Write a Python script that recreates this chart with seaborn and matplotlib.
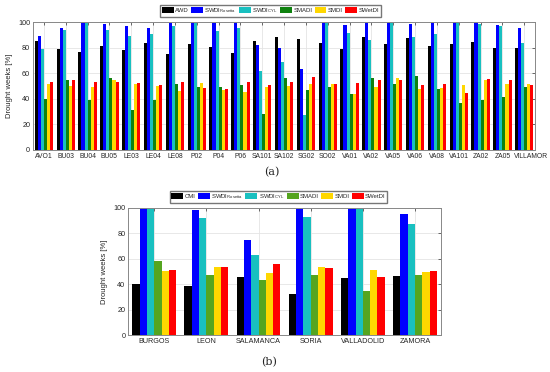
import numpy as np
import pandas as pd
import seaborn as sns
from matplotlib import pyplot as plt
from matplotlib import transforms

# (a) stations
stations = ['AVO1', 'BU03', 'BU04', 'BU05', 'LE03', 'LE04', 'LE08', 'P02', 'P04', 'P06',
            'SA101', 'SA102', 'SG02', 'SO02', 'VA01', 'VA02', 'VA05', 'VA06', 'VA08',
            'VA101', 'ZA02', 'ZA05', 'VILLAMOR']
awd = [85.3, 79.3, 76.4, 81.7, 78.3, 83.5, 75.0, 83.2, 80.6, 76.2, 85.6, 88.5, 86.9,
       83.5, 78.8, 88.7, 83.0, 87.4, 81.7, 83.0, 84.3, 79.8, 79.8]
swdi_ros_a = [89.5, 95.8, 100, 99.0, 97.4, 95.5, 99.7, 100, 99.5, 100, 82.2, 79.6, 63.6,
              100, 97.6, 100, 100, 99.0, 100, 100, 100, 97.6, 95.5]
swdi_cyl_a = [78.8, 94.0, 100, 94.0, 89.0, 91.0, 96.9, 100, 93.5, 95.8, 62.0, 68.6, 27.5,
              100, 92.0, 86.4, 100, 88.7, 91.0, 100, 99.0, 97.4, 83.5]
smadi_a = [40.0, 55.0, 39.0, 56.5, 31.0, 39.0, 51.6, 49.0, 49.5, 50.5, 28.0, 56.5, 47.0,
           49.0, 43.7, 56.5, 52.0, 58.0, 48.0, 36.6, 39.5, 41.6, 49.2]
smdi_a = [51.3, 50.0, 49.0, 55.0, 51.8, 50.3, 45.8, 52.4, 47.0, 45.5, 49.2, 50.3, 51.6,
          51.3, 44.0, 49.7, 56.5, 47.6, 48.7, 51.0, 55.0, 51.8, 51.6]
swetdi_a = [52.9, 55.0, 53.0, 53.4, 52.4, 51.0, 53.4, 48.2, 47.6, 53.4, 51.0, 52.9, 57.0,
            51.8, 52.6, 55.0, 55.0, 50.8, 51.8, 44.5, 55.8, 55.0, 51.0]

# (b) provinces
provinces = ['BURGOS', 'LEON', 'SALAMANCA', 'SORIA', 'VALLADOLID', 'ZAMORA']
cmi = [39.8, 38.5, 45.5, 32.0, 44.8, 46.6]
swdi_ros_b = [100, 97.9, 74.9, 100, 100, 95.0]
swdi_cyl_b = [100, 92.0, 62.6, 92.7, 100, 87.2]
smadi_b = [58.0, 46.9, 43.0, 47.0, 34.8, 47.1]
smdi_b = [50.3, 53.7, 48.7, 53.4, 51.3, 49.5]
swetdi_b = [51.0, 53.1, 55.5, 52.9, 45.3, 50.3]

labels_a = ['AWD', 'SWDI$_{Rosetta}$', 'SWDI$_{CYL}$', 'SMADI', 'SMDI', 'SWetDI']
labels_b = ['CMI', 'SWDI$_{Rosetta}$', 'SWDI$_{CYL}$', 'SMADI', 'SMDI', 'SWetDI']
colors_a = ['#000000', '#0000ff', '#19c0c0', '#0f820f', '#ffd700', '#ff0000']
colors_b = ['#000000', '#0000ff', '#19c0c0', '#55a520', '#ffd700', '#ff0000']


def to_long(cats, series, names):
    df = pd.DataFrame({n: s for n, s in zip(names, series)})
    df['cat'] = cats
    return df.melt(id_vars='cat', var_name='index', value_name='value')


df_a = to_long(stations, [awd, swdi_ros_a, swdi_cyl_a, smadi_a, smdi_a, swetdi_a], labels_a)
df_b = to_long(provinces, [cmi, swdi_ros_b, swdi_cyl_b, smadi_b, smdi_b, swetdi_b], labels_b)

sns.set_style('white')
plt.rcParams['font.family'] = ['Liberation Sans', 'DejaVu Sans']
plt.rcParams['mathtext.fontset'] = 'custom'
plt.rcParams['mathtext.rm'] = 'Liberation Sans'
plt.rcParams['mathtext.it'] = 'Liberation Sans'

fig = plt.figure(figsize=(5.5, 3.72), dpi=100)
ax1 = fig.add_axes([0.060, 0.597, 0.913, 0.343])
ax2 = fig.add_axes([0.233, 0.099, 0.569, 0.343])


def style_panel(ax, df, labels, colors, legend_corner, xsize):
    sns.barplot(data=df, x='cat', y='value', hue='index', hue_order=labels,
                palette=dict(zip(labels, colors)), saturation=1, width=0.84,
                linewidth=0, ax=ax, zorder=2)
    ax.set_ylim(0, 100)
    ax.set_yticks(np.arange(0, 101, 20))
    ax.set_xlim(-0.5, len(df['cat'].unique()) - 0.5)
    ax.set_xlabel('')
    ax.set_ylabel('Drought weeks [%]', fontsize=5.5)
    ax.grid(True, color='#e4e4e4', linewidth=0.6, zorder=0)
    ax.set_axisbelow(True)
    ax.tick_params(axis='both', labelsize=5.2, direction='in', length=2, width=0.5,
                   top=True, right=True, color='#333333', pad=2)
    ax.tick_params(axis='x', labelsize=xsize)
    for sp in ax.spines.values():
        sp.set_color('#888888')
        sp.set_linewidth(0.7)
    ax.legend(title=None, ncol=6, fontsize=4.3, loc='lower right',
              bbox_to_anchor=legend_corner, bbox_transform=fig.transFigure,
              frameon=True, fancybox=False, edgecolor='#555555',
              handlelength=2.0, handleheight=1.1, handletextpad=0.25,
              columnspacing=0.35, borderpad=0.25, borderaxespad=0)


style_panel(ax1, df_a, labels_a, colors_a, (0.692, 0.955), 4.9)
style_panel(ax2, df_b, labels_b, colors_b, (0.704, 0.455), 5.2)

# last station label sits a little to the right, as in the original
last = ax1.get_xticklabels()[-1]
last.set_transform(last.get_transform() + transforms.ScaledTranslation(7 / 100, 0, fig.dpi_scale_trans))

fig.text(0.495, 0.528, '(a)', fontsize=8, family='DejaVu Serif', ha='center')
fig.text(0.49, 0.018, '(b)', fontsize=8, family='DejaVu Serif', ha='center')

fig.savefig('out.png', dpi=100)
